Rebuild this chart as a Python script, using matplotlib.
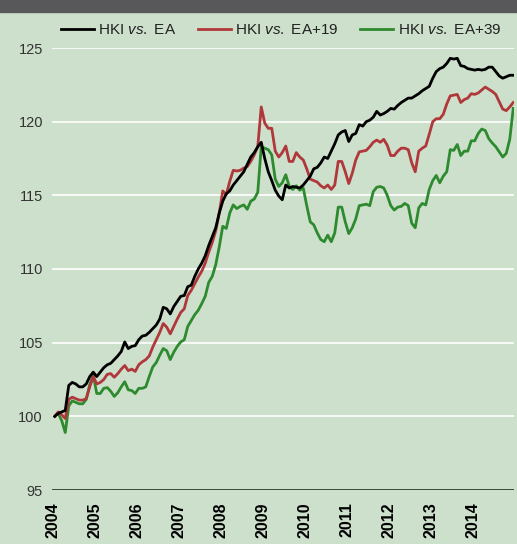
import numpy as np
import matplotlib
matplotlib.use("Agg")
import matplotlib.pyplot as plt

plt.rcParams['font.family'] = ['Liberation Sans', 'DejaVu Sans']
plt.rcParams['mathtext.fontset'] = 'custom'
plt.rcParams['mathtext.it'] = 'Liberation Sans:italic'
plt.rcParams['mathtext.rm'] = 'Liberation Sans'

# monthly index values, Jan 2004 - Dec 2014 (2004 = 100)
hki_ea = [100.0, 100.2, 100.3, 100.4, 102.1, 102.3, 102.2, 102.0, 102.0, 102.2, 102.7, 103.0,
          102.7, 103.0, 103.3, 103.5, 103.6, 103.85, 104.1, 104.4, 105.05, 104.6, 104.75, 104.8,
          105.2, 105.45, 105.5, 105.7, 105.95, 106.2, 106.6, 107.4, 107.3, 106.95, 107.45, 107.8,
          108.15, 108.2, 108.8, 108.9, 109.5, 110.0, 110.4, 110.9, 111.6, 112.2, 112.8, 113.8,
          114.6, 115.1, 115.3, 115.7, 116.0, 116.3, 116.6, 117.1, 117.6, 117.9, 118.3, 118.6,
          117.5, 116.6, 116.0, 115.35, 114.95, 114.7, 115.7, 115.5, 115.6, 115.55, 115.5, 115.7,
          116.0, 116.3, 116.8, 116.9, 117.2, 117.6, 117.5, 118.0, 118.5, 119.1, 119.3, 119.4,
          118.65, 119.1, 119.2, 119.8, 119.7, 120.0, 120.1, 120.3, 120.7, 120.45, 120.55, 120.7,
          120.9, 120.85, 121.1, 121.3, 121.45, 121.6, 121.6, 121.75, 121.9, 122.1, 122.25, 122.4,
          122.95, 123.4, 123.6, 123.7, 123.95, 124.3, 124.25, 124.3, 123.8, 123.75, 123.6, 123.55,
          123.5, 123.55, 123.5, 123.55, 123.7, 123.7, 123.4, 123.1, 122.95, 123.05, 123.15, 123.15]

hki_ea19 = [100.0, 100.3, 100.1, 99.85, 101.15, 101.3, 101.2, 101.1, 101.1, 101.2, 102.0, 102.7,
            102.2, 102.3, 102.5, 102.85, 102.9, 102.65, 102.9, 103.2, 103.45, 103.1, 103.2, 103.05,
            103.5, 103.7, 103.85, 104.1, 104.7, 105.2, 105.7, 106.3, 106.05, 105.6, 106.1, 106.6,
            107.05, 107.3, 108.2, 108.55, 109.0, 109.45, 109.85, 110.4, 111.15, 111.8, 112.6, 113.8,
            115.3, 115.05, 115.95, 116.7, 116.65, 116.7, 116.85, 116.95, 117.3, 117.75, 118.3, 121.0,
            119.9, 119.55, 119.55, 118.0, 117.6, 117.9, 118.35, 117.3, 117.3, 117.9, 117.6, 117.4,
            116.8, 116.1, 116.0, 115.9, 115.65, 115.5, 115.7, 115.4, 115.7, 117.3, 117.3, 116.6,
            115.8, 116.5, 117.4, 117.95, 118.0, 118.05, 118.3, 118.6, 118.75, 118.6, 118.8, 118.4,
            117.7, 117.7, 118.0, 118.2, 118.2, 118.1, 117.2, 116.6, 118.0, 118.2, 118.35, 119.15,
            120.0, 120.2, 120.2, 120.5, 121.2, 121.75, 121.8, 121.85, 121.3, 121.5, 121.6, 121.9,
            121.85, 121.95, 122.15, 122.35, 122.2, 122.05, 121.85, 121.35, 120.85, 120.75, 121.0, 121.3]

hki_ea39 = [100.0, 100.2, 99.7, 98.9, 100.7, 101.05, 100.95, 100.85, 100.85, 101.15, 102.15, 102.8,
            101.55, 101.55, 101.9, 101.95, 101.7, 101.35, 101.6, 102.0, 102.35, 101.8, 101.75, 101.55,
            101.9, 101.9, 102.0, 102.7, 103.35, 103.65, 104.15, 104.6, 104.45, 103.85, 104.35, 104.75,
            105.05, 105.2, 106.1, 106.5, 106.9, 107.2, 107.65, 108.15, 109.1, 109.5, 110.3, 111.5,
            112.9, 112.75, 113.8, 114.35, 114.1, 114.25, 114.35, 114.05, 114.6, 114.75, 115.2, 118.3,
            118.2, 118.1, 117.75, 116.1, 115.6, 115.85, 116.4, 115.6, 115.4, 115.65, 115.35, 115.5,
            114.3, 113.2, 113.0, 112.45, 112.0, 111.85, 112.3, 111.85, 112.45, 114.2, 114.2, 113.2,
            112.4, 112.8, 113.4, 114.3, 114.35, 114.4, 114.3, 115.25, 115.55, 115.6, 115.5, 115.0,
            114.3, 114.0, 114.2, 114.25, 114.45, 114.3, 113.1, 112.8, 114.15, 114.45, 114.35, 115.4,
            116.0, 116.35, 115.85, 116.3, 116.6, 118.1, 118.05, 118.45, 117.7, 118.0, 118.0, 118.7,
            118.7, 119.2, 119.5, 119.4, 118.85, 118.55, 118.3, 117.95, 117.6, 117.85, 118.8, 120.9]

years = list(range(2004, 2015))
yticks = [95, 100, 105, 110, 115, 120, 125]

t = 2004 + (np.arange(len(hki_ea)) + 0.5) / 12

bg = '#cde0cc'
fig = plt.figure(figsize=(5.17, 5.44), dpi=100, facecolor=bg)
# dark strip at the top
fig.patches.append(plt.Rectangle((0, 1 - 12 / 544), 1, 12 / 544, transform=fig.transFigure,
                                 color='#58585a', zorder=0))

ax = fig.add_axes([52 / 517, 1 - 490 / 544, 462 / 517, 442 / 544])
ax.set_facecolor(bg)
for s in ax.spines.values():
    s.set_visible(False)

for v in yticks[1:]:
    ax.axhline(v, color='white', lw=1.2, zorder=1)
ax.axhline(95, color='#3c463c', lw=1.4, zorder=1)

ax.plot(t, hki_ea, color='#000000', lw=2.0, label=r'HKI $\it{vs.}$ EA', zorder=4)
ax.plot(t, hki_ea19, color='#b0383a', lw=2.0, label=r'HKI $\it{vs.}$ EA+19', zorder=3)
ax.plot(t, hki_ea39, color='#2e8a2e', lw=2.0, label=r'HKI $\it{vs.}$ EA+39', zorder=2)

ax.set_xlim(2004 - 1 / 42, 2004 + 461 / 42)
ax.set_ylim(95, 125)
ax.set_yticks(yticks)
ax.set_xticks(years)
ax.set_xticklabels([str(y) for y in years], rotation=90, fontweight='bold', fontsize=11.5)
ax.tick_params(axis='x', length=0, pad=9, colors='black')
ax.tick_params(axis='y', length=0, pad=6.5, labelsize=10.5, colors='#333333')

leg = fig.legend(loc='center left', bbox_to_anchor=(61 / 517, 1 - 30 / 544), ncol=3, frameon=False,
                 fontsize=11, handlelength=2.15, handletextpad=0.3, columnspacing=1.4,
                 borderpad=0, borderaxespad=0)
for txt in leg.get_texts():
    txt.set_color('#222222')

fig.savefig('out.png', dpi=100, facecolor=bg)
